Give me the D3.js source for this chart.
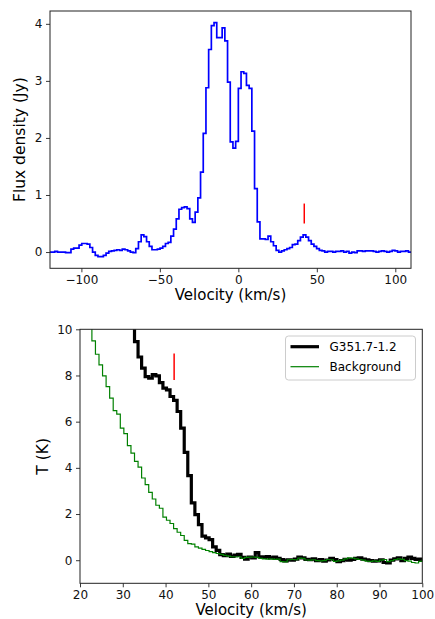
<!DOCTYPE html>
<html>
<head>
<meta charset="utf-8">
<script src="https://cdn.jsdelivr.net/npm/d3@7"></script>
<style>
  body { margin: 0; background: #fff; }
  text { font-family: "DejaVu Sans", sans-serif; }
</style>
</head>
<body>
<script>
// --- top spectrum: flux density per channel (Jy), channel edges every 1.72 km/s
var fluxV0 = -120.4, fluxDv = 1.72;
var flux = [
  0, 0, 0.01, 0, 0, 0, -0.01, -0.01, 0.05, 0.07,
  0.07, 0.12, 0.15, 0.15, 0.14, 0.08, 0.0, -0.06, -0.08, -0.08,
  -0.06, -0.02, 0.01, 0.02, 0.03, 0.04, 0.03, 0.05, 0.04, 0.02,
  0.0, -0.01, 0.06, 0.18, 0.30, 0.27, 0.18, 0.10, 0.04, 0.04,
  0.05, 0.07, 0.10, 0.15, 0.17, 0.28, 0.40, 0.58, 0.75, 0.78,
  0.79, 0.76, 0.58, 0.52, 0.70, 0.95, 1.40, 2.08, 2.88, 3.55,
  3.97, 4.02, 3.76, 3.76, 3.93, 3.70, 2.98, 1.93, 1.82, 1.94,
  2.87, 3.16, 3.13, 2.92, 2.87, 2.12, 1.11, 0.53, 0.23, 0.23,
  0.22, 0.28, 0.18, 0.11, 0.03, 0.0, 0.02, 0.04, 0.06, 0.08,
  0.13, 0.14, 0.20, 0.26, 0.30, 0.26, 0.20, 0.14, 0.10, 0.06,
  0.03, 0.02, 0.0, 0.01, 0.01, 0.0, 0.01, 0.01, 0.02, 0.0,
  0.01, -0.02, 0.0, -0.01, 0.02, 0.02, 0.01, 0.02, 0.02, 0.02,
  0.01, 0.0, 0.01, 0.02, 0.01, 0.0, 0.01, 0.03, 0.02, 0.0,
  0.01, 0.01, 0.02, 0.0
];
var fluxMarker = {v: 42, y0: 0.5, y1: 0.85};
var topXTicks = [-100, -50, 0, 50, 100];
var topYTicks = [0, 1, 2, 3, 4];

// --- bottom spectrum: brightness temperature (K), channels every 0.83 km/s
var tDv = 0.83;
var bgV0 = 19.46;
var background = [
  12.5, 11.6, 10.8, 10.3, 9.5, 8.92, 8.46, 7.98, 7.52, 7.02,
  6.48, 6.33, 5.72, 5.48, 4.96, 4.64, 4.28, 4.03, 3.56, 3.27,
  2.94, 2.65, 2.38, 2.25, 1.87, 1.73, 1.59, 1.37, 1.21, 1.07,
  0.86, 0.72, 0.70, 0.58, 0.52, 0.47, 0.42, 0.37, 0.33, 0.29,
  0.25, 0.21, 0.18, 0.15, 0.14, 0.15, 0.08, 0.12, 0.13, 0.14,
  0.12, 0.08, 0.06, 0.05, 0.06, 0.04, 0.05, -0.06, -0.07, 0.02,
  0.03, 0.02, 0.09, 0.08, 0.01, 0.0, 0.02, -0.02, -0.03, -0.02,
  0.03, 0.02, -0.05, -0.03, 0.0, 0.06, 0.10, 0.09, 0.06, 0.03,
  0.0, -0.04, -0.05, -0.03, -0.05, 0.0, 0.03, -0.06, -0.02, 0.03,
  0.06, 0.04, -0.02, -0.04, -0.10, -0.12, -0.05, 0.0
];
var srcV0 = 31.08;
var source = [
  11.2, 10.4, 9.47, 8.8, 8.32, 7.95, 7.88, 8.04, 7.98, 7.69,
  7.45, 7.38, 7.09, 6.92, 6.44, 5.72, 4.67, 3.66, 2.48, 1.97,
  1.54, 1.04, 0.97, 0.89, 0.58, 0.43, 0.24, 0.20, 0.27, 0.17,
  0.22, 0.25, 0.12, 0.05, 0.14, 0.10, 0.33, 0.15, 0.12, 0.16,
  0.10, 0.14, 0.08, 0.03, -0.03, 0.02, 0.00, 0.05, 0.14, 0.10,
  0.04, 0.02, 0.06, -0.02, 0.03, -0.04, 0.01, 0.08, 0.03, -0.06,
  -0.02, 0.04, 0.0, 0.03, 0.08, 0.10, 0.05, 0.02, -0.02, -0.04,
  -0.03, 0.02, -0.10, -0.12, 0.0, 0.06, 0.10, -0.02, 0.08, 0.14,
  0.08, 0.03, 0.05, 0.0
];
var tMarker = {v: 42, y0: 7.8, y1: 8.95};
var botXTicks = [20, 30, 40, 50, 60, 70, 80, 90, 100];
var botYTicks = [0, 2, 4, 6, 8, 10];
var legendNames = ["G351.7-1.2", "Background"];

var svg = d3.select("body").append("svg")
  .attr("width", 435)
  .attr("height", 619);

function stepPoints(v0, dv, vals) {
  var pts = vals.map(function(y, i) { return [v0 + i * dv, y]; });
  pts.push([v0 + vals.length * dv, vals[vals.length - 1]]);
  return pts;
}

function panel(box, xDom, yDom, xTicks, yTicks, xLabel, yLabel, yLabelX, id) {
  var x = d3.scaleLinear().domain(xDom).range([box.left, box.right]);
  var y = d3.scaleLinear().domain(yDom).range([box.bottom, box.top]);

  svg.append("clipPath").attr("id", id)
    .append("rect")
    .attr("x", box.left).attr("y", box.top)
    .attr("width", box.right - box.left).attr("height", box.bottom - box.top);

  var xa = svg.append("g")
    .attr("transform", "translate(0," + box.bottom + ")")
    .call(d3.axisBottom(x).tickValues(xTicks).tickSize(4).tickPadding(3));
  var ya = svg.append("g")
    .attr("transform", "translate(" + box.left + ",0)")
    .call(d3.axisLeft(y).tickValues(yTicks).tickSize(4).tickPadding(3.5).tickFormat(d3.format("d")));
  [xa, ya].forEach(function(a) {
    a.select(".domain").remove();
    a.selectAll("text").style("font-size", "12px").attr("fill", "#111");
    a.selectAll("line").attr("stroke", "#222").attr("stroke-width", 0.9);
  });

  svg.append("text")
    .attr("x", (box.left + box.right) / 2)
    .attr("y", box.bottom + 32)
    .attr("text-anchor", "middle")
    .style("font-size", "15px")
    .text(xLabel);

  svg.append("text")
    .attr("transform", "translate(" + yLabelX + "," + (box.top + box.bottom) / 2 + ") rotate(-90)")
    .attr("text-anchor", "middle")
    .style("font-size", "15.5px")
    .text(yLabel);

  return {x: x, y: y, clip: "url(#" + id + ")"};
}

// top panel
var topBox = {left: 50, right: 411, top: 11, bottom: 268.3};
var p1 = panel(topBox, [-120, 110], [-0.285, 4.225], topXTicks, topYTicks,
  "Velocity (km/s)", "Flux density (Jy)", 25, "clipTop");

var line1 = d3.line()
  .x(function(d) { return p1.x(d[0]); })
  .y(function(d) { return p1.y(d[1]); })
  .curve(d3.curveStepAfter);

svg.append("path")
  .attr("clip-path", p1.clip)
  .attr("d", line1(stepPoints(fluxV0, fluxDv, flux)))
  .attr("fill", "none")
  .attr("stroke", "#0000ff")
  .attr("stroke-width", 1.7);

svg.append("line")
  .attr("x1", p1.x(fluxMarker.v)).attr("x2", p1.x(fluxMarker.v))
  .attr("y1", p1.y(fluxMarker.y0)).attr("y2", p1.y(fluxMarker.y1))
  .attr("stroke", "#ff0000").attr("stroke-width", 1.5);

svg.append("rect")
  .attr("x", topBox.left).attr("y", topBox.top)
  .attr("width", topBox.right - topBox.left).attr("height", topBox.bottom - topBox.top)
  .attr("fill", "none").attr("stroke", "#222").attr("stroke-width", 1);

// bottom panel
var botBox = {left: 80, right: 422.3, top: 329.3, bottom: 583.3};
var p2 = panel(botBox, [20, 100], [-1, 10], botXTicks, botYTicks,
  "Velocity (km/s)", "T (K)", 48, "clipBot");

var line2 = d3.line()
  .x(function(d) { return p2.x(d[0]); })
  .y(function(d) { return p2.y(d[1]); })
  .curve(d3.curveStepAfter);

svg.append("path")
  .attr("clip-path", p2.clip)
  .attr("d", line2(stepPoints(srcV0, tDv, source)))
  .attr("fill", "none")
  .attr("stroke", "#000")
  .attr("stroke-width", 3.2);

svg.append("path")
  .attr("clip-path", p2.clip)
  .attr("d", line2(stepPoints(bgV0, tDv, background)))
  .attr("fill", "none")
  .attr("stroke", "#008000")
  .attr("stroke-width", 1.2);

svg.append("line")
  .attr("x1", p2.x(tMarker.v)).attr("x2", p2.x(tMarker.v))
  .attr("y1", p2.y(tMarker.y0)).attr("y2", p2.y(tMarker.y1))
  .attr("stroke", "#ff0000").attr("stroke-width", 1.5);

svg.append("rect")
  .attr("x", botBox.left).attr("y", botBox.top)
  .attr("width", botBox.right - botBox.left).attr("height", botBox.bottom - botBox.top)
  .attr("fill", "none").attr("stroke", "#222").attr("stroke-width", 1);

// legend
var legend = svg.append("g").attr("transform", "translate(285.5,336)");
legend.append("rect")
  .attr("width", 130).attr("height", 44).attr("rx", 3)
  .attr("fill", "#fff").attr("fill-opacity", 0.8)
  .attr("stroke", "#ccc").attr("stroke-width", 1);

var legendStyles = [{color: "#000", width: 3.2}, {color: "#008000", width: 1.2}];
legendNames.forEach(function(name, i) {
  var row = legend.append("g").attr("transform", "translate(0," + (10.7 + i * 20) + ")");
  row.append("line")
    .attr("x1", 5).attr("x2", 33.5)
    .attr("stroke", legendStyles[i].color)
    .attr("stroke-width", legendStyles[i].width);
  row.append("text")
    .attr("x", 44)
    .attr("y", 4.5)
    .style("font-size", "12px")
    .text(name);
});
</script>
</body>
</html>
